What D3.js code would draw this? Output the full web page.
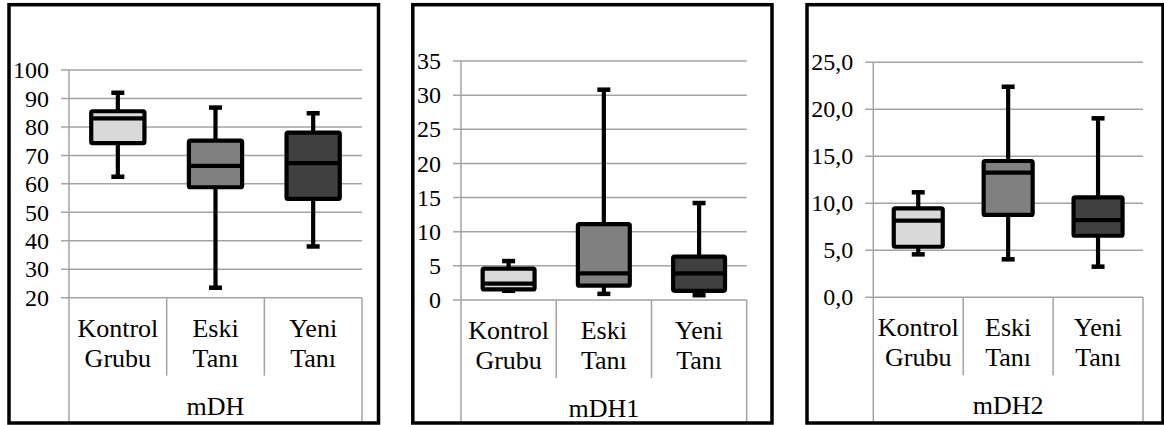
<!DOCTYPE html>
<html>
<head>
<meta charset="utf-8">
<script src="https://cdn.jsdelivr.net/npm/d3@7/dist/d3.min.js"></script>
<style>
  html, body { margin: 0; padding: 0; background: #fff; }
  svg { display: block; }
</style>
</head>
<body>
<svg id="chart" width="1164" height="425"></svg>
<script>
// Group labels (two text lines each) shared by all three panels
const categories = ["Kontrol Grubu", "Eski Tanı", "Yeni Tanı"];
const categoryLines = [["Kontrol", "Grubu"], ["Eski", "Tanı"], ["Yeni", "Tanı"]];
const measures = ["mDH", "mDH1", "mDH2"];

// Tick values per panel
const mdhTicks  = [20, 30, 40, 50, 60, 70, 80, 90, 100];
const mdh1Ticks = [0, 5, 10, 15, 20, 25, 30, 35];
const mdh2Ticks = [0, 5, 10, 15, 20, 25];

// Box statistics per group: [min, Q1, median, Q3, max]
const mdhStats = [
  [62.5, 74.3, 83.0, 85.5, 92.0],
  [23.5, 58.8, 66.3, 75.2, 86.8],
  [38.0, 54.7, 67.3, 78.0, 84.8]
];
const mdh1Stats = [
  [1.35, 1.55, 2.4, 4.6, 5.7],
  [0.9, 2.1, 3.9, 11.1, 30.8],
  [0.7, 1.35, 3.9, 6.35, 14.2]
];
const mdh2Stats = [
  [4.57, 5.38, 8.15, 9.47, 11.17],
  [4.04, 8.76, 13.26, 14.5, 22.4],
  [3.26, 6.55, 8.22, 10.64, 19.04]
];

const boxFills = ["#d9d9d9", "#808080", "#404040"];
const gridColor = "#a3a3a3";
const serifFont = '"Liberation Serif", "Times New Roman", serif';

// decimal comma for the mDH2 axis
const commaFmt = d => d3.format(".1f")(d).replace(".", ",");

const panels = [
  { title: measures[0], stats: mdhStats,  ticks: mdhTicks,  fmt: d3.format("d"),
    frame: { x: 9,   y: 4.7, w: 369.5, h: 418.3 },
    plot:  { l: 69,    r: 362,   t: 70,   b: 297.7 } },
  { title: measures[1], stats: mdh1Stats, ticks: mdh1Ticks, fmt: d3.format("d"),
    frame: { x: 412.8, y: 4.7, w: 359.2, h: 418.3 },
    plot:  { l: 461,   r: 746.7, t: 61,   b: 300 } },
  { title: measures[2], stats: mdh2Stats, ticks: mdh2Ticks, fmt: commaFmt,
    frame: { x: 807,   y: 4.7, w: 356,   h: 418.3 },
    plot:  { l: 873.3, r: 1143,  t: 62.3, b: 297.3 } }
];

const svg = d3.select("#chart");

panels.forEach(p => {
  const g = svg.append("g");
  const frameBottom = p.frame.y + p.frame.h;

  const x = d3.scaleBand().domain(categories).range([p.plot.l, p.plot.r]).padding(0);
  const y = d3.scaleLinear().domain(d3.extent(p.ticks)).range([p.plot.b, p.plot.t]);

  // horizontal gridlines, each poking out a little left of the axis
  g.append("g").selectAll("line").data(p.ticks).join("line")
    .attr("x1", p.plot.l - 8).attr("x2", p.plot.r)
    .attr("y1", d => y(d)).attr("y2", d => y(d))
    .attr("stroke", gridColor).attr("stroke-width", 1.5);

  // value axis line runs from the top gridline down to the frame
  g.append("line")
    .attr("x1", p.plot.l).attr("x2", p.plot.l)
    .attr("y1", p.plot.t).attr("y2", frameBottom)
    .attr("stroke", gridColor).attr("stroke-width", 1.5);

  // right border of the category table
  g.append("line")
    .attr("x1", p.plot.r).attr("x2", p.plot.r)
    .attr("y1", p.plot.b).attr("y2", frameBottom)
    .attr("stroke", gridColor).attr("stroke-width", 1.5);

  // separators between the group labels
  g.append("g").selectAll("line").data(categories.slice(1)).join("line")
    .attr("x1", d => x(d)).attr("x2", d => x(d))
    .attr("y1", p.plot.b).attr("y2", p.plot.b + 78)
    .attr("stroke", gridColor).attr("stroke-width", 1.5);

  // tick labels
  const axis = d3.axisLeft(y).tickValues(p.ticks).tickFormat(p.fmt).tickSize(0).tickPadding(20);
  const ag = g.append("g").attr("transform", `translate(${p.plot.l},0)`).call(axis);
  ag.attr("font-family", serifFont).attr("font-size", 24);
  ag.select(".domain").remove();
  ag.selectAll("text").attr("fill", "#000");

  // group labels, two lines each
  const lab = g.append("g").selectAll("text").data(categories).join("text")
    .attr("text-anchor", "middle")
    .attr("font-family", serifFont)
    .attr("font-size", 26)
    .attr("x", d => x(d) + x.bandwidth() / 2)
    .attr("y", p.plot.b + 39);
  lab.selectAll("tspan").data((d, i) => categoryLines[i]).join("tspan")
    .attr("x", function () { return d3.select(this.parentNode).attr("x"); })
    .attr("dy", (d, i) => i === 0 ? 0 : 30)
    .text(d => d);

  // measure name
  g.append("text")
    .attr("text-anchor", "middle")
    .attr("font-family", serifFont)
    .attr("font-size", 26)
    .attr("x", (p.plot.l + p.plot.r) / 2)
    .attr("y", p.plot.b + 117)
    .text(p.title);

  // boxes and whiskers
  const boxW = x.bandwidth() * 0.545;
  const capW = 13;
  const groups = g.append("g").selectAll("g").data(p.stats).join("g")
    .attr("transform", (d, i) => `translate(${x(categories[i]) + x.bandwidth() / 2},0)`);

  groups.append("line")
    .attr("x1", 0).attr("x2", 0)
    .attr("y1", d => y(d[0])).attr("y2", d => y(d[4]))
    .attr("stroke", "#000").attr("stroke-width", 4.2);

  groups.selectAll(".cap").data(d => [d[0], d[4]]).join("line")
    .attr("class", "cap")
    .attr("x1", -capW / 2).attr("x2", capW / 2)
    .attr("y1", d => y(d)).attr("y2", d => y(d))
    .attr("stroke", "#000").attr("stroke-width", 4.5);

  groups.append("rect")
    .attr("x", -boxW / 2).attr("width", boxW)
    .attr("y", d => y(d[3])).attr("height", d => y(d[1]) - y(d[3]))
    .attr("rx", 1.5)
    .attr("fill", (d, i) => boxFills[i])
    .attr("stroke", "#000").attr("stroke-width", 4.2)
    .attr("stroke-linejoin", "round");

  groups.append("line")
    .attr("x1", -boxW / 2).attr("x2", boxW / 2)
    .attr("y1", d => y(d[2])).attr("y2", d => y(d[2]))
    .attr("stroke", "#000").attr("stroke-width", 4.2);

  // outer frame
  g.append("rect")
    .attr("x", p.frame.x).attr("y", p.frame.y)
    .attr("width", p.frame.w).attr("height", p.frame.h)
    .attr("fill", "none").attr("stroke", "#000").attr("stroke-width", 3.5);
});
</script>
</body>
</html>
